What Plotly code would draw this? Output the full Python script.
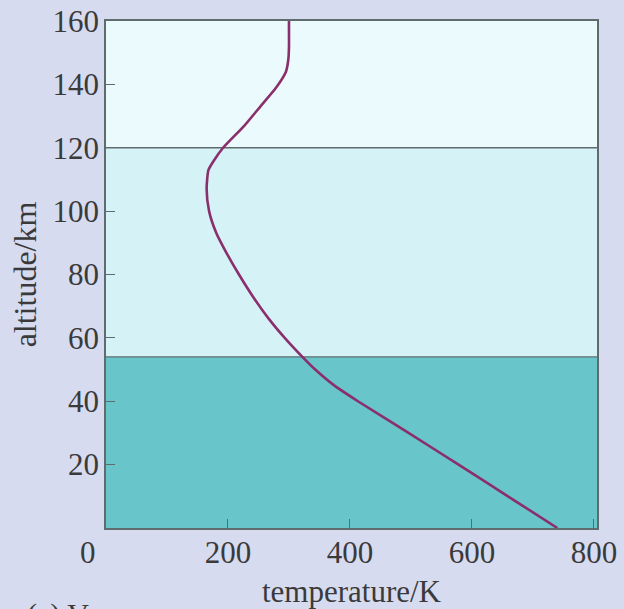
import plotly.graph_objects as go

# Venus temperature profile
altitude_km = [0, 10, 20, 30, 40, 45, 50, 54, 60, 66, 73, 80, 87, 93, 100, 107, 113,
               116, 120, 127, 133, 139, 144, 148, 152, 156, 160]
temperature_K = [740, 659, 578, 496, 413, 374, 343, 322, 293, 267, 241, 218, 197, 181,
                 169, 165, 168, 177, 192, 227, 253, 279, 295, 299, 300, 300, 300]

# atmospheric layers (altitude bounds, km) and their fills
layer_bounds = [0, 54, 120, 160]
layer_colors = ["rgb(104,198,202)", "rgb(213,243,247)", "rgb(235,250,252)"]
boundary_lines = [54, 120]

x_ticks = [200, 400, 600, 800]
y_ticks = [20, 40, 60, 80, 100, 120, 140, 160]

FONT = "Liberation Serif, Times New Roman, serif"
TXT = "#3a3a3a"
EDGE = "#5f6c6e"

fig = go.Figure()
fig.add_trace(go.Scatter(
    x=temperature_K, y=altitude_km, mode="lines",
    line=dict(color="#8a2f6c", width=2.6, shape="spline", smoothing=0.6),
    showlegend=False, hoverinfo="x+y"))

for i in range(len(layer_colors)):
    fig.add_shape(type="rect", xref="x domain", yref="y",
                  x0=0, x1=1, y0=layer_bounds[i], y1=layer_bounds[i + 1],
                  fillcolor=layer_colors[i], line=dict(width=0), layer="below")
for b in boundary_lines:
    fig.add_shape(type="line", xref="x domain", yref="y", x0=0, x1=1, y0=b, y1=b,
                  line=dict(color=EDGE, width=1.3), layer="below")

fig.add_annotation(text="0", xref="paper", yref="paper", x=-0.037, y=-0.049,
                   xanchor="center", yanchor="middle",
                   showarrow=False, font=dict(family=FONT, size=31, color=TXT))
fig.add_annotation(text="(a) Venus", xref="paper", yref="paper", x=-0.165, y=-0.17,
                   xanchor="left", yanchor="middle", showarrow=False,
                   font=dict(family=FONT, size=30, color=TXT))

fig.update_layout(
    width=624, height=609,
    margin=dict(l=106, r=27, t=21, b=81),
    paper_bgcolor="rgb(215,219,240)",
    plot_bgcolor="rgb(235,250,252)",
    font=dict(family=FONT, size=31, color=TXT),
    xaxis=dict(range=[0, 805], tickvals=x_ticks, ticks="inside", ticklen=9,
               tickcolor=EDGE, tickwidth=1.3, showgrid=False, zeroline=False,
               showline=True, linecolor=EDGE, linewidth=1.6, mirror=True,
               ticklabelstandoff=-4, automargin=False,
               title=dict(text="temperature/K", standoff=12,
                          font=dict(family=FONT, size=31, color=TXT))),
    yaxis=dict(range=[0, 160], tickvals=y_ticks, ticks="inside", ticklen=9,
               tickcolor=EDGE, tickwidth=1.3, showgrid=False, zeroline=False,
               showline=True, linecolor=EDGE, linewidth=1.6, mirror=True,
               ticklabelstandoff=-1, automargin=False,
               title=dict(text="altitude/km", standoff=6,
                          font=dict(family=FONT, size=32, color=TXT))),
)

fig.write_html("out.html", config={"displayModeBar": False},
               post_script="document.body.style.margin='0';document.body.style.overflow='hidden';")
